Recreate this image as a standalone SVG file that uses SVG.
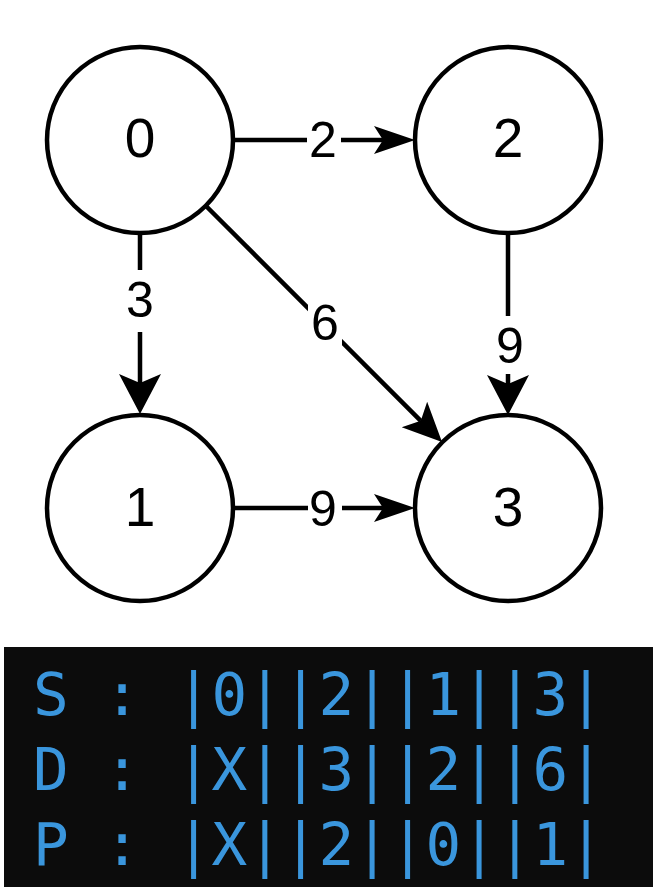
<svg xmlns="http://www.w3.org/2000/svg" width="653" height="893" viewBox="0 0 653 893">
<style>
.node{fill:#fff;stroke:#000;stroke-width:4.5}
.nl{font-family:"Liberation Sans",Arial,sans-serif;font-size:55px;fill:#000;text-anchor:middle}
.edge{stroke:#000;stroke-width:4.5;fill:none}
.el{font-family:"Liberation Sans",Arial,sans-serif;font-size:50px;fill:#000;text-anchor:middle}
.lbg{fill:#fff}
.term{font-family:"DejaVu Sans Mono","Liberation Mono",monospace;font-size:59.3px;fill:#3A96DD}
</style>
<defs>
<marker id="ah" markerUnits="userSpaceOnUse" viewBox="0 -14 41 28" markerWidth="41" markerHeight="28" refX="9" refY="0" orient="auto" overflow="visible"><path d="M0,-14 L41,0 L0,14 L9,0 Z" fill="#000"/></marker>
<marker id="av" markerUnits="userSpaceOnUse" viewBox="0 -21 40 42" markerWidth="40" markerHeight="42" refX="9" refY="0" orient="auto" overflow="visible"><path d="M0,-21 L40,0 L0,21 L9,0 Z" fill="#000"/></marker>
<marker id="ad" markerUnits="userSpaceOnUse" viewBox="0 -18 39 36" markerWidth="39" markerHeight="36" refX="9" refY="0" orient="auto" overflow="visible"><path d="M0,-18 L39,0 L0,18 L9,0 Z" fill="#000"/></marker>
</defs>
<rect width="653" height="893" fill="#fff"/>
<g id="connectors">
<g id="e0-2"><line class="edge" x1="233" y1="140" x2="383" y2="140" marker-end="url(#ah)"/><rect class="lbg" x="307" y="114" width="34" height="52"/><text class="el" x="323" y="157">2</text></g>
<g id="e1-3"><line class="edge" x1="233" y1="508" x2="383" y2="508" marker-end="url(#ah)"/><rect class="lbg" x="308" y="482" width="34" height="52"/><text class="el" x="323" y="526">9</text></g>
<g id="e0-1"><line class="edge" x1="140" y1="233" x2="140" y2="383" marker-end="url(#av)"/><rect class="lbg" x="124" y="270" width="32" height="62"/><text class="el" x="140" y="317">3</text></g>
<g id="e2-3"><line class="edge" x1="508" y1="233" x2="508" y2="384" marker-end="url(#av)"/><rect class="lbg" x="494" y="316" width="32" height="58"/><text class="el" x="510" y="363">9</text></g>
<g id="e0-3"><line class="edge" x1="206" y1="206" x2="420.8" y2="420.8" marker-end="url(#ad)"/><rect class="lbg" x="308" y="296" width="34" height="52"/><text class="el" x="325" y="340">6</text></g>
</g>
<g id="node0"><circle class="node" cx="140" cy="140" r="93"/><text class="nl" x="140" y="157">0</text></g>
<g id="node2"><circle class="node" cx="508" cy="140" r="93"/><text class="nl" x="508" y="157">2</text></g>
<g id="node1"><circle class="node" cx="140" cy="508" r="93"/><text class="nl" x="140" y="526">1</text></g>
<g id="node3"><circle class="node" cx="508" cy="508" r="93"/><text class="nl" x="508" y="526">3</text></g>
<g id="terminal">
<rect x="4" y="647" width="649" height="240" fill="#0C0C0C"/>
<text class="term" x="33" y="715" xml:space="preserve" textLength="571" lengthAdjust="spacing">S : |0||2||1||3|</text>
<text class="term" x="33" y="790" xml:space="preserve" textLength="571" lengthAdjust="spacing">D : |X||3||2||6|</text>
<text class="term" x="33" y="865" xml:space="preserve" textLength="571" lengthAdjust="spacing">P : |X||2||0||1|</text>
</g>
</svg>
